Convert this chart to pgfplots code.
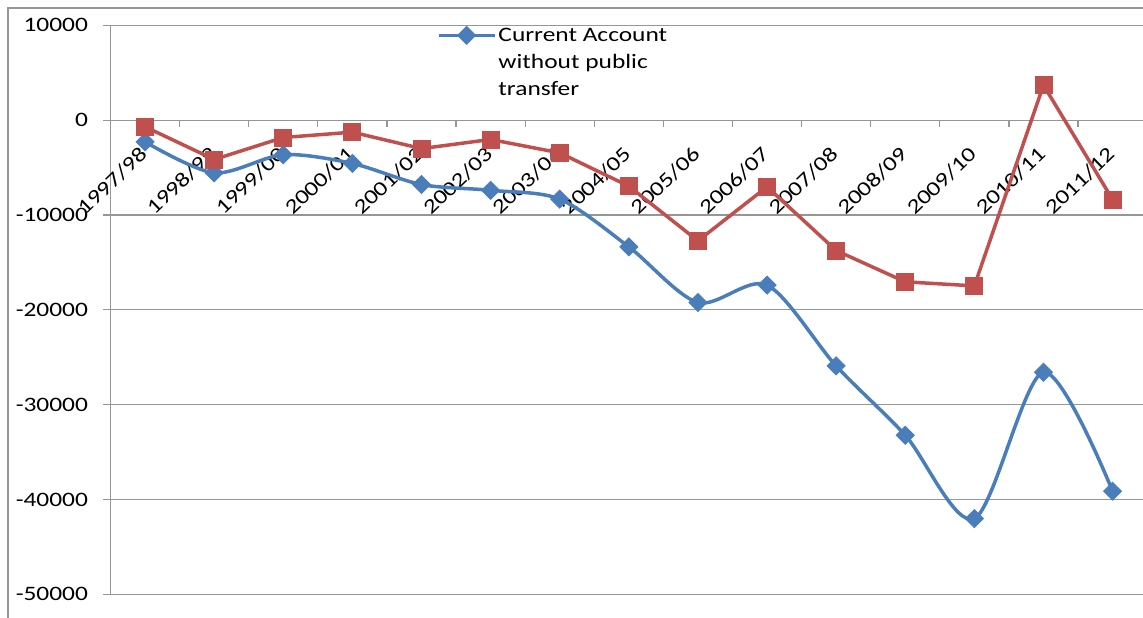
\documentclass[border=0pt]{standalone}
\usepackage{fontspec}
\setmainfont{Carlito}[FakeStretch=1.24]
\usepackage{pgfplots}
\pgfplotsset{compat=1.18}
\definecolor{cblue}{RGB}{74,126,187}
\definecolor{cred}{RGB}{192,80,77}
\definecolor{cgrid}{RGB}{150,150,150}
\pgfplotstableread{
x y
0 -2290
1 -5560
2 -3650
3 -4570
4 -6790
5 -7400
6 -8330
7 -13360
8 -19230
9 -17400
10 -25920
11 -33230
12 -42020
13 -26580
14 -39130
}\blueseries
\pgfplotstableread{
x y
0 -700
1 -4150
2 -1830
3 -1270
4 -3000
5 -2040
6 -3450
7 -6960
8 -12730
9 -7030
10 -13750
11 -17050
12 -17480
13 3690
14 -8370
}\redseries
\begin{document}
\begin{tikzpicture}[x=1pt,y=1pt]
\useasboundingbox (0,0) rectangle (1143,618);
\draw[cgrid, line width=1.6pt] (8,0) -- (8,610) -- (1143,610);
\begin{axis}[
  at={(110.5pt,23.7pt)}, anchor=south west,
  scale only axis, width=1032.5pt, height=569pt,
  xmin=-0.5, xmax=14.44, ymin=-50000, ymax=10000,
  axis x line=middle, axis y line=left,
  axis line style={-, cgrid, line width=1.2pt},
  scaled y ticks=false,
  ytick={-50000,-40000,...,10000},
  ymajorgrids, grid style={cgrid, line width=1.2pt},
  xtick={0,...,14},
  xticklabels={1997/98,1998/99,1999/00,2000/01,2001/02,2002/03,2003/04,2004/05,2005/06,2006/07,2007/08,2008/09,2009/10,2010/11,2011/12},
  minor xtick={0.5,1.5,...,13.5},
  every major x tick/.style={draw=none},
  tick align=outside, major tick length=7pt, minor tick length=7pt,
  tick style={cgrid, line width=1.2pt},
  /pgf/number format/assume math mode=true,
  /pgf/number format/1000 sep={},
  tick label style={font=\fontsize{20.5}{24}\selectfont, text=black},
  xticklabel style={xshift=1pt, yshift=-21pt, rotate=44, anchor=east},
  yticklabel style={anchor=east, xshift=-12pt},
  legend style={at={(0.316,0.9985)}, anchor=north west, draw=none, fill=none, inner sep=0pt,
    font=\fontsize{20.5}{27.3}\selectfont, cells={align=left}, nodes={inner xsep=2pt, inner ysep=0pt}},
  legend cell align=left,
  legend image code/.code={\draw[yshift=27.3pt,mark repeat=2,mark phase=2,#1] plot coordinates {(0pt,0pt) (28pt,0pt) (56pt,0pt)};},
]
\addplot[cblue, line width=3.5pt, smooth, tension=0.5, mark=square*, mark size=6.4pt,
  mark options={rotate=45, line width=0.8pt, solid}] table[x=x,y=y] {\blueseries};
\addlegendentry{Current Account\\without public\\transfer}
\addplot[cred, line width=3.5pt, mark=square*, mark size=8.5pt,
  mark options={line width=0.8pt, solid}, forget plot] table[x=x,y=y] {\redseries};
\end{axis}
\end{tikzpicture}
\end{document}
